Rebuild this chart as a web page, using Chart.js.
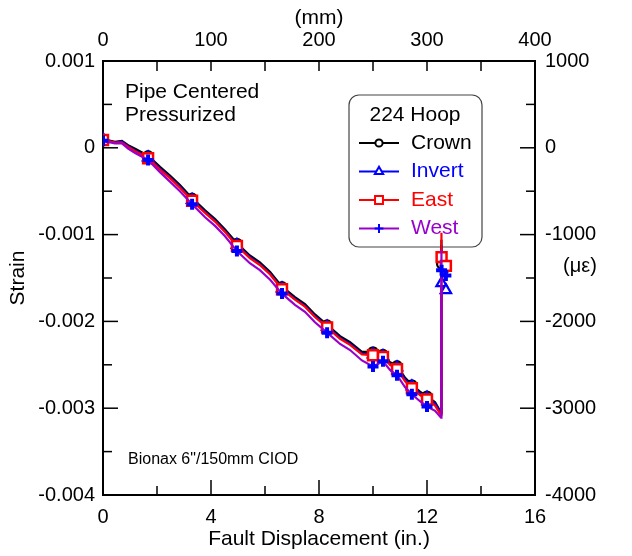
<!DOCTYPE html>
<html>
<head>
<meta charset="utf-8">
<script src="https://cdn.jsdelivr.net/npm/chart.js"></script>
<style>
  body { margin: 0; background: #fff; }
</style>
</head>
<body>
<canvas id="strainChart" width="632" height="556"></canvas>
<script>
// fault displacement (in.) for every recorded point
const faultDisp = [0, 0.44, 0.70, 0.93, 1.19, 1.67, 2.11, 2.48, 2.85, 3.30, 3.78, 4.15, 4.52, 4.96,
  5.44, 5.81, 6.19, 6.63, 7.11, 7.48, 7.85, 8.30, 8.78, 9.15, 9.59, 10.00, 10.37, 10.63, 10.89,
  11.19, 11.44, 11.74, 12.00, 12.30, 12.52, 12.53, 12.54, 12.70];

// strain readings, 224 hoop gauges
const crownStrain = [0.0001, 0.00007, 0.00008, 0.00003, -0.00001, -0.00009, -0.00022, -0.00032, -0.00043,
  -0.00058, -0.00072, -0.00082, -0.00094, -0.0011, -0.00124, -0.00132, -0.00143, -0.0016, -0.00172,
  -0.0018, -0.00192, -0.00204, -0.00217, -0.00224, -0.00235, -0.00235, -0.00238, -0.00247, -0.00251,
  -0.00265, -0.00273, -0.00281, -0.00286, -0.00293, -0.00305, -0.00106, -0.00134, -0.00138];
const invertStrain = [0.0001, 0.00006, 0.00007, 0.00002, -0.00003, -0.00011, -0.00024, -0.00034, -0.00045,
  -0.0006, -0.00074, -0.00084, -0.00096, -0.00112, -0.00126, -0.00134, -0.00145, -0.00162, -0.00174,
  -0.00182, -0.00194, -0.00206, -0.00219, -0.00226, -0.00237, -0.00238, -0.0024, -0.00249, -0.00253,
  -0.00267, -0.00275, -0.00283, -0.00288, -0.00295, -0.00306, -0.00112, -0.00156, -0.00164];
const eastStrain = [0.00009, 0.00006, 0.00006, 0.00001, -0.00004, -0.00012, -0.00025, -0.00035, -0.00046,
  -0.00061, -0.00075, -0.00085, -0.00097, -0.00113, -0.00127, -0.00135, -0.00146, -0.00163, -0.00175,
  -0.00183, -0.00195, -0.00207, -0.0022, -0.00227, -0.00238, -0.00239, -0.00241, -0.0025, -0.00255,
  -0.00269, -0.00277, -0.00285, -0.0029, -0.00297, -0.00308, -0.00098, -0.00126, -0.00136];
const westStrain = [0.00008, 0.00005, 0.00005, -0.00001, -0.00006, -0.00014, -0.00028, -0.00039, -0.0005,
  -0.00065, -0.0008, -0.0009, -0.00102, -0.00119, -0.00133, -0.00141, -0.00152, -0.00168, -0.00181,
  -0.00189, -0.00201, -0.00213, -0.00226, -0.00233, -0.00245, -0.00252, -0.00246, -0.00256, -0.00262,
  -0.00276, -0.00284, -0.00292, -0.00298, -0.00303, -0.00311, -0.00118, -0.00141, -0.00147];

// points that carry a marker
const markerIdx = [0, 5, 9, 13, 17, 21, 25, 26, 28, 30, 32, 36, 37];

const seriesNames = ['Crown', 'Invert', 'East', 'West'];
const legendTitle = '224 Hoop';

const FONT = "'Liberation Sans', Arial, sans-serif";
Chart.defaults.font.family = FONT;
Chart.defaults.color = '#000';

const toXY = arr => arr.map((v, i) => ({ x: faultDisp[i], y: v }));
const markerSize = r => ctx => markerIdx.includes(ctx.dataIndex) ? r : 0;

const series = [
  { name: seriesNames[0], data: crownStrain, line: '#000000', mark: '#000000', style: 'circle', r: 4.5, bw: 2.2, text: '#000000', order: 4 },
  { name: seriesNames[1], data: invertStrain, line: '#0000ff', mark: '#0000ff', style: 'triangle', r: 6, bw: 2.2, text: '#0000ff', order: 3 },
  { name: seriesNames[2], data: eastStrain, line: '#ff0000', mark: '#ff0000', style: 'rect', r: 7, bw: 2.5, text: '#ff0000', order: 2 },
  { name: seriesNames[3], data: westStrain, line: '#9900cc', mark: '#0000ff', style: 'cross', r: 5.5, bw: 4, text: '#9900cc', order: 1 }
];

const seg = (c, x1, y1, x2, y2) => { c.beginPath(); c.moveTo(x1, y1); c.lineTo(x2, y2); c.stroke(); };

// legend box and free text sit under the data lines
const decorations = {
  id: 'decorations',
  beforeDatasetsDraw(chart) {
    const c = chart.ctx;
    c.save();
    c.fillStyle = '#000';
    c.textBaseline = 'middle';
    c.textAlign = 'left';
    c.font = '21px ' + FONT;
    c.fillText('Pipe Centered', 125, 92);
    c.fillText('Pressurized', 125, 115);
    c.font = '16px ' + FONT;
    c.fillText('Bionax 6"/150mm CIOD', 128, 460);

    const bx = 349, by = 95, bw = 133, bh = 152, rad = 10;
    c.beginPath();
    c.roundRect(bx, by, bw, bh, rad);
    c.fillStyle = '#fff';
    c.fill();
    c.strokeStyle = '#444';
    c.lineWidth = 1.2;
    c.stroke();
    c.font = '21px ' + FONT;
    c.fillStyle = '#000';
    c.textAlign = 'center';
    c.fillText(legendTitle, 415, 115);
    c.textAlign = 'left';
    series.forEach((s, i) => {
      const ly = 143 + i * 28.5;
      c.strokeStyle = s.line;
      c.lineWidth = 2;
      seg(c, 359, ly, 399, ly);
      c.strokeStyle = s.mark;
      c.fillStyle = '#fff';
      Chart.helpers.drawPoint(c, { pointStyle: s.style, radius: s.r * 0.8, borderWidth: s.bw * 0.8, rotation: 0 }, 379, ly);
      c.fillStyle = s.text;
      c.fillText(s.name, 411, ly);
    });
    c.restore();
  },
  // inner tick marks and the right-hand unit label
  afterDraw(chart) {
    const c = chart.ctx;
    const { x, y, x2 } = chart.scales;
    const a = chart.chartArea;
    c.save();
    c.strokeStyle = '#000';
    c.lineWidth = 1.5;
    for (let v = 2; v < 16; v += 2) {
      const px = x.getPixelForValue(v);
      seg(c, px, a.bottom, px, a.bottom - (v % 4 === 0 ? 15 : 9));
    }
    for (let v = 50; v < 400; v += 50) {
      const px = x2.getPixelForValue(v);
      seg(c, px, a.top, px, a.top + 10);
    }
    for (let k = -7; k <= 1; k++) {
      const py = y.getPixelForValue(k * 0.0005);
      const len = k % 2 === 0 ? 15 : 9;
      seg(c, a.left, py, a.left + len, py);
      seg(c, a.right, py, a.right - len, py);
    }
    c.fillStyle = '#000';
    c.textBaseline = 'middle';
    c.textAlign = 'center';
    c.font = '20px ' + FONT;
    c.fillText('(\u03bc\u03b5)', 580, 266);
    c.restore();
  }
};

const ctx = document.getElementById('strainChart').getContext('2d');
const strainChart = new Chart(ctx, {
  type: 'line',
  data: {
    datasets: series.map(s => ({
      label: s.name,
      data: toXY(s.data),
      borderColor: s.line,
      borderWidth: 2.2,
      tension: 0,
      order: s.order,
      pointStyle: s.style,
      pointRadius: markerSize(s.r),
      pointHoverRadius: 0,
      pointBorderColor: s.mark,
      pointBackgroundColor: '#fff',
      pointBorderWidth: s.bw
    }))
  },
  options: {
    responsive: false,
    animation: false,
    events: [],
    layout: { padding: 0 },
    plugins: { legend: { display: false }, tooltip: { enabled: false } },
    scales: {
      x: {
        type: 'linear', position: 'bottom', min: 0, max: 16,
        grid: { display: false, drawTicks: false },
        border: { display: true, color: '#000', width: 2 },
        ticks: { stepSize: 4, padding: 10, font: { size: 20 }, maxRotation: 0 },
        title: { display: true, text: 'Fault Displacement (in.)', font: { size: 21 }, padding: { top: 0, bottom: 4 } },
        afterFit: s => { s.height = 61; }
      },
      x2: {
        type: 'linear', position: 'top', min: 0, max: 400,
        grid: { display: false, drawTicks: false },
        border: { display: true, color: '#000', width: 2 },
        ticks: { stepSize: 100, padding: 9, font: { size: 20 }, maxRotation: 0 },
        title: { display: true, text: '(mm)', font: { size: 21 }, padding: { top: 6, bottom: 0 } },
        afterFit: s => { s.height = 61; }
      },
      y: {
        type: 'linear', position: 'left', min: -0.004, max: 0.001,
        grid: { display: false, drawTicks: false },
        border: { display: true, color: '#000', width: 2 },
        ticks: { stepSize: 0.001, padding: 8, font: { size: 20 },
          callback: v => Math.abs(v) < 1e-9 ? '0' : v.toFixed(3) },
        title: { display: true, text: 'Strain', font: { size: 21 }, padding: { top: 6, bottom: 0 } },
        afterFit: s => { s.width = 103; }
      },
      y2: {
        type: 'linear', position: 'right', min: -4000, max: 1000,
        grid: { display: false, drawTicks: false },
        border: { display: true, color: '#000', width: 2 },
        ticks: { stepSize: 1000, padding: 10, font: { size: 20 }, callback: v => String(v) },
        afterFit: s => { s.width = 97; }
      }
    }
  },
  plugins: [decorations]
});
</script>
</body>
</html>
